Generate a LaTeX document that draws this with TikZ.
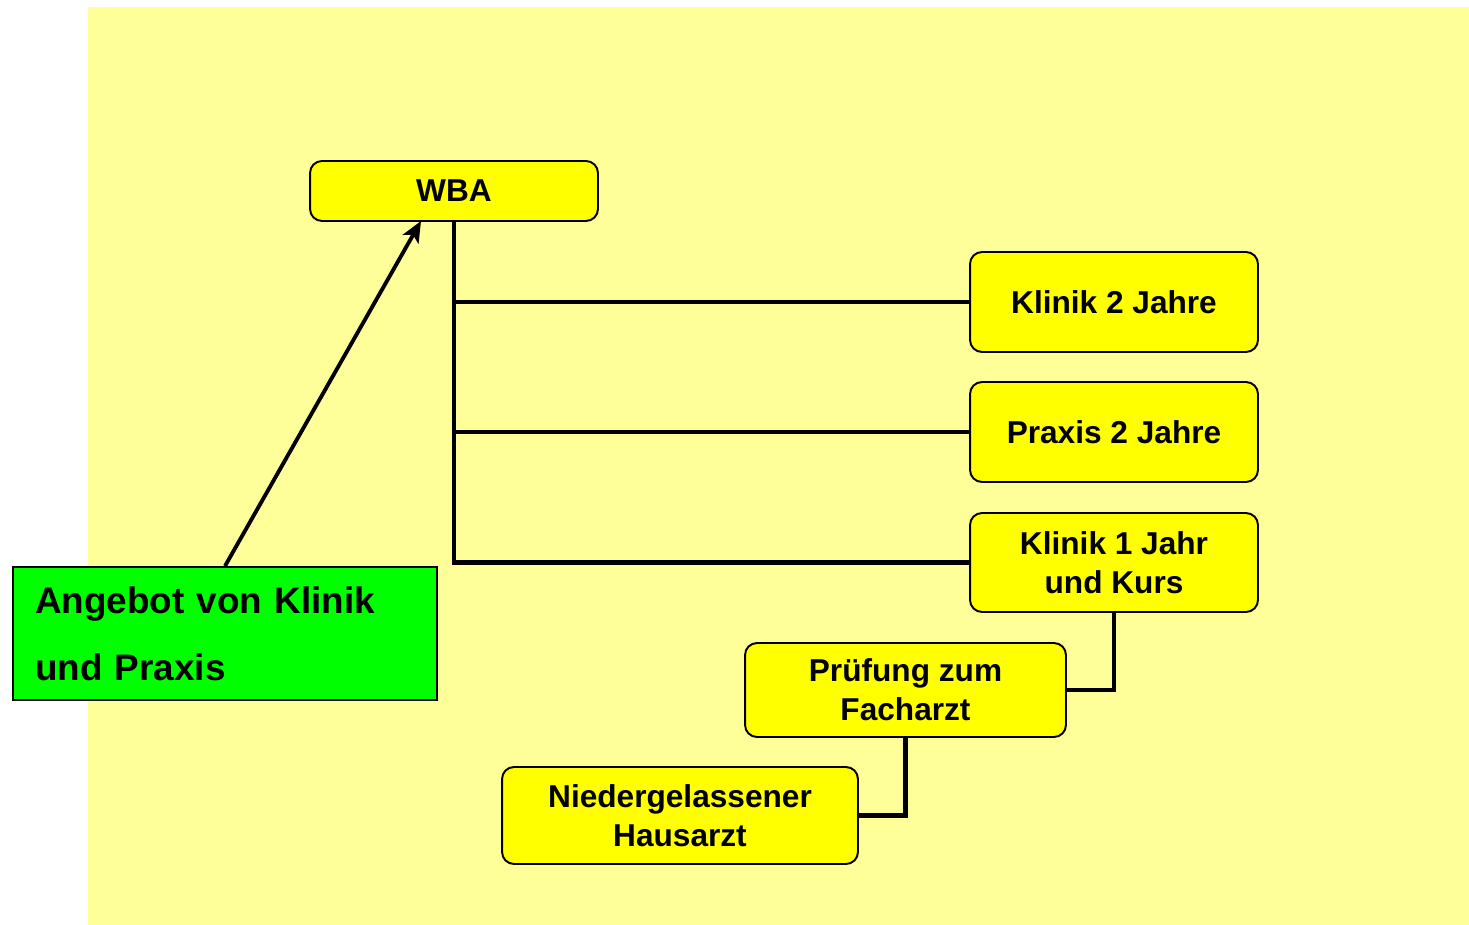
\documentclass[tikz,border=0pt]{standalone}
\usepackage{fontspec}
\setmainfont{Liberation Sans}
\usepackage{tikz}
\usetikzlibrary{arrows.meta}
\definecolor{bggelb}{HTML}{FFFF99}
\definecolor{boxgelb}{HTML}{FFFF00}
\definecolor{boxgruen}{HTML}{00FF00}
\begin{document}
\begin{tikzpicture}[x=0.02cm,y=-0.02cm]
					\tikzstyle{box}=[draw=black,fill=boxgelb,rounded corners=0.24cm,line width=1.1pt,align=center,font=\bfseries\fontsize{18}{22}\selectfont,minimum width=5.76cm,inner sep=0pt]
					\tikzstyle{linie}=[line width=2.8pt]
					\useasboundingbox (0,0) rectangle (1469,925);
					\fill[bggelb] (88,7) rectangle (1469,925);
					\node[box,minimum height=1.2cm](wba) at (454,191) {WBA};
					\node[box,minimum height=2cm](k2) at (1114,302) {Klinik 2 Jahre};
					\node[box,minimum height=2cm](p2) at (1114,432) {Praxis 2 Jahre};
					\node[box,minimum height=1.98cm](k1) at (1114,562.5) {Klinik 1 Jahr\\und Kurs};
					\node[box,minimum width=6.42cm,minimum height=1.88cm](fa) at (905.5,690) {Prüfung zum\\Facharzt};
					\node[box,minimum width=7.12cm,minimum height=1.94cm](ha) at (680,815.5) {Niedergelassener\\Hausarzt};
					\node[draw=black,fill=boxgruen,line width=1.1pt,minimum width=8.48cm,minimum height=2.66cm,text width=7.6cm,inner xsep=0.44cm,align=left,font=\bfseries\fontsize{21}{38}\selectfont](ang) at (225,633.5) {Angebot von Klinik\\und Praxis};
					\coordinate (pfeil) at (421,221);
					\draw[linie] (wba) |- (k2);
					\draw[linie] (wba) |- (p2);
					\draw[linie] (wba) |- (k1);
					\draw[linie] (k1) |- (fa);
					\draw[linie] (fa) |- (ha);
					\draw[line width=2.2pt,-{Stealth[length=0.42cm,width=0.36cm,inset=0.1cm]}] (ang.north) -- (pfeil);
				\end{tikzpicture}
\end{document}
